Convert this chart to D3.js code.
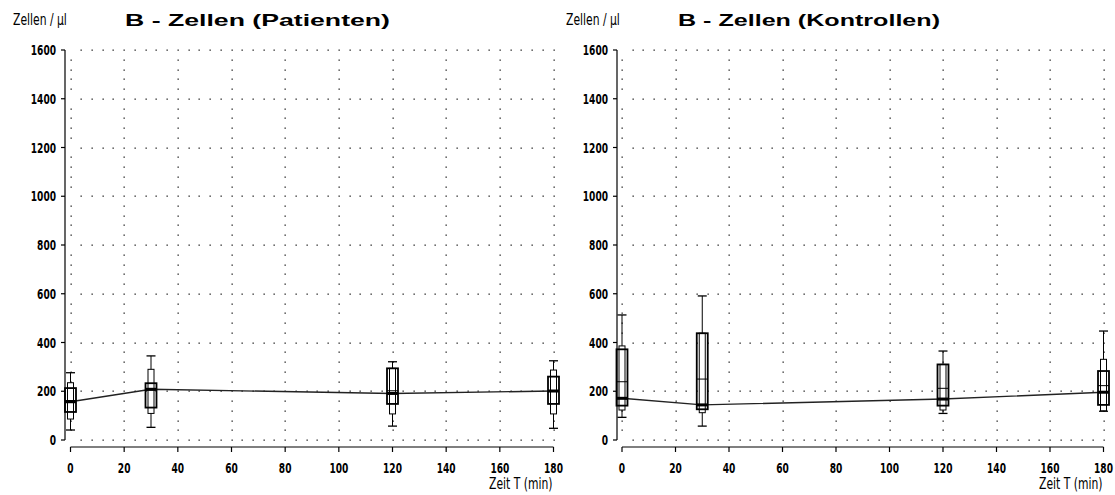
<!DOCTYPE html>
<meta charset="utf-8">
<style>
body { margin: 0; background: #fff; }
svg { display: block; }
.tick-label { font-family: 'DejaVu Sans Condensed', 'Liberation Sans Narrow', sans-serif; font-weight: bold; font-size: 14px; fill: #000; }
.unit { font-family: 'DejaVu Sans Condensed', 'Liberation Sans Narrow', sans-serif; font-size: 15px; fill: #000; }
.title { font-family: 'Liberation Sans', Arial, sans-serif; font-weight: bold; font-size: 17px; fill: #000; }
</style>
<body>
<script src="https://d3js.org/d3.v7.min.js"></script>
<script>

// time points (min)
var times = [0, 30, 120, 180];
var xTicks = [0, 20, 40, 60, 80, 100, 120, 140, 160, 180];
var yTicks = [0, 200, 400, 600, 800, 1000, 1200, 1400, 1600];

// B-Zellen Patienten: min, p10, q1, median, mean, q3, p90, max
var patMin  = [41, 52, 57, 48];
var patP10  = [86, 109, 107, 107];
var patQ1   = [115, 133, 148, 148];
var patMed  = [157, 208, 191, 201];
var patMean = [162, 205, 202, 200];
var patQ3   = [213, 233, 294, 260];
var patP90  = [235, 290, 294, 287];
var patMax  = [276, 345, 321, 325];

// B-Zellen Kontrollen
var konMin  = [93, 57, 109, 118];
var konP10  = [123, 112, 123, 120];
var konQ1   = [141, 126, 141, 144];
var konMed  = [171, 144, 168, 196];
var konMean = [239, 250, 212, 223];
var konQ3   = [372, 438, 310, 283];
var konP90  = [386, 438, 310, 331];
var konMax  = [513, 591, 365, 447];

var panels = [
  {title: "B - Zellen (Patienten)", left: 65, x0: 70.5, x1: 553.5, titleX: 125, titleW: 265, unitX: 13,
   min: patMin, p10: patP10, q1: patQ1, med: patMed, mean: patMean, q3: patQ3, p90: patP90, max: patMax},
  {title: "B - Zellen (Kontrollen)", left: 617, x0: 622, x1: 1103.5, titleX: 678, titleW: 262, unitX: 566,
   min: konMin, p10: konP10, q1: konQ1, med: konMed, mean: konMean, q3: konQ3, p90: konP90, max: konMax}
];

var svg = d3.select("body").append("svg")
    .attr("width", 1115)
    .attr("height", 495);

var y = d3.scaleLinear().domain([0, 1600]).range([440, 50]);

// narrow text: squeeze horizontally
function narrow(sel, px, py, sx) {
  return sel.attr("transform", "translate(" + px + "," + py + ") scale(" + sx + ",1)");
}

panels.forEach(function(p) {
  var x = d3.scaleLinear().domain([0, 180]).range([p.x0, p.x1]);
  var g = svg.append("g");

  // dotted grid: rows every 200, dots every 4 min
  var dots = [];
  yTicks.forEach(function(v) {
    for (var t = 4; t <= 180; t += 4) dots.push([t, v]);
  });
  xTicks.forEach(function(t) {
    for (var v = 40; v < 1600; v += 40) if (v % 200 != 0) dots.push([t, v]);
  });
  g.selectAll("rect.dot").data(dots).enter().append("rect")
      .attr("class", "dot")
      .attr("x", function(d) { return Math.round(x(d[0])) - 0.5; })
      .attr("y", function(d) { return Math.round(y(d[1])) - 0.5; })
      .attr("width", 1.3).attr("height", 1.3)
      .attr("fill", "#222");

  // y axis
  g.append("line")
      .attr("x1", p.left).attr("x2", p.left)
      .attr("y1", y(1600)).attr("y2", y(0))
      .attr("stroke", "#000").attr("stroke-width", 1.2);
  g.selectAll("line.ytick").data(yTicks).enter().append("line")
      .attr("x1", p.left - 4).attr("x2", p.left)
      .attr("y1", function(d) { return y(d); })
      .attr("y2", function(d) { return y(d); })
      .attr("stroke", "#000").attr("stroke-width", 1.2);
  g.selectAll("text.ylab").data(yTicks).enter().append("text")
      .attr("class", "tick-label")
      .attr("text-anchor", "end")
      .each(function(d) { narrow(d3.select(this), p.left - 9, y(d) + 5, 0.72); })
      .text(function(d) { return d; });

  // x axis (offset below plot)
  g.append("line")
      .attr("x1", x(0)).attr("x2", x(180))
      .attr("y1", 447).attr("y2", 447)
      .attr("stroke", "#000").attr("stroke-width", 1.2);
  g.selectAll("line.xtick").data(xTicks).enter().append("line")
      .attr("x1", function(d) { return x(d); })
      .attr("x2", function(d) { return x(d); })
      .attr("y1", 447).attr("y2", 452)
      .attr("stroke", "#000").attr("stroke-width", 1.2);
  g.selectAll("text.xlab").data(xTicks).enter().append("text")
      .attr("class", "tick-label")
      .attr("text-anchor", "middle")
      .each(function(d) { narrow(d3.select(this), x(d), 473, 0.72); })
      .text(function(d) { return d; });

  narrow(g.append("text").attr("class", "unit").attr("text-anchor", "end"),
      x(180) - 1, 489, 0.8)
      .text("Zeit T (min)");

  narrow(g.append("text").attr("class", "unit"), p.unitX, 25, 0.8)
      .text("Zellen / µl");

  g.append("text")
      .attr("class", "title")
      .attr("x", p.titleX)
      .attr("y", 26)
      .attr("textLength", p.titleW)
      .attr("lengthAdjust", "spacingAndGlyphs")
      .text(p.title);

  // median line
  var line = d3.line()
      .x(function(d, i) { return x(times[i]); })
      .y(function(d) { return y(d); });
  g.append("path")
      .datum(p.med)
      .attr("d", line)
      .attr("fill", "none")
      .attr("stroke", "#222")
      .attr("stroke-width", 1.4);

  // box plots
  times.forEach(function(t, i) {
    var cx = x(t);
    var b = g.append("g");
    b.append("line")
        .attr("x1", cx).attr("x2", cx)
        .attr("y1", y(p.max[i])).attr("y2", y(p.min[i]))
        .attr("stroke", "#000").attr("stroke-width", 1);
    [p.max[i], p.min[i]].forEach(function(v) {
      b.append("line")
          .attr("x1", cx - 4.5).attr("x2", cx + 4.5)
          .attr("y1", y(v)).attr("y2", y(v))
          .attr("stroke", "#000").attr("stroke-width", 1.3);
    });
    b.append("rect")
        .attr("x", cx - 3).attr("width", 6)
        .attr("y", y(p.p90[i])).attr("height", y(p.p10[i]) - y(p.p90[i]))
        .attr("fill", "#fff").attr("stroke", "#000").attr("stroke-width", 1);
    b.append("rect")
        .attr("x", cx - 5.5).attr("width", 11)
        .attr("y", y(p.q3[i])).attr("height", y(p.q1[i]) - y(p.q3[i]))
        .attr("fill", "none").attr("stroke", "#000").attr("stroke-width", 1.8);
    b.append("line")
        .attr("x1", cx - 5.5).attr("x2", cx + 5.5)
        .attr("y1", y(p.mean[i])).attr("y2", y(p.mean[i]))
        .attr("stroke", "#000").attr("stroke-width", 1);
    b.append("line")
        .attr("x1", cx - 5.5).attr("x2", cx + 5.5)
        .attr("y1", y(p.med[i])).attr("y2", y(p.med[i]))
        .attr("stroke", "#000").attr("stroke-width", 3);
  });
});

</script>
</body>
